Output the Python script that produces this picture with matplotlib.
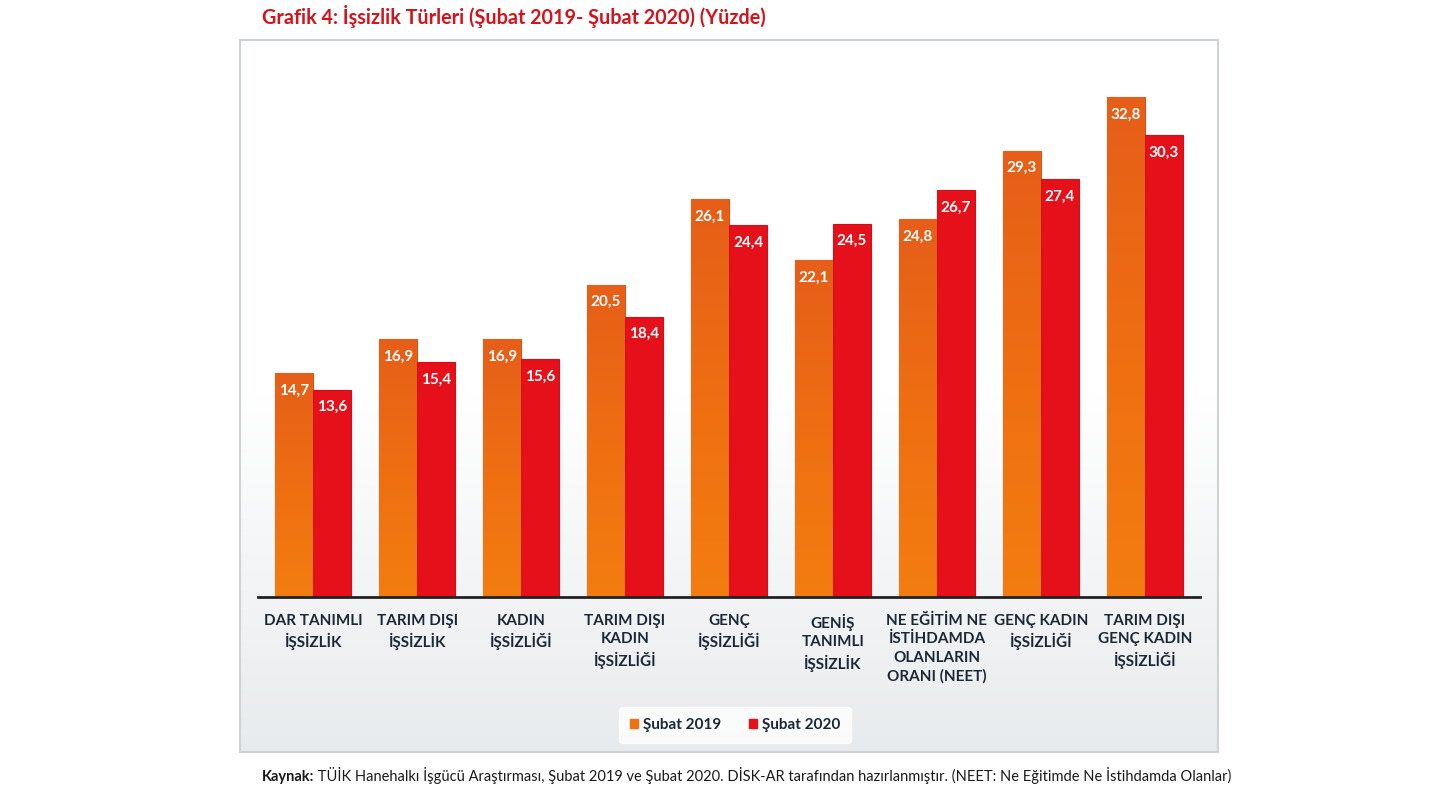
import numpy as np
import matplotlib
matplotlib.use("Agg")
import matplotlib.pyplot as plt
from matplotlib.colors import LinearSegmentedColormap

plt.rcParams['font.family'] = ['Lato', 'DejaVu Sans']

CATEGORIES = [
    "DAR TANIMLI\nİŞSİZLİK",
    "TARIM DIŞI\nİŞSİZLİK",
    "KADIN\nİŞSİZLİĞİ",
    "TARIM DIŞI\nKADIN\nİŞSİZLİĞİ",
    "GENÇ\nİŞSİZLİĞİ",
    "GENİŞ\nTANIMLI\nİŞSİZLİK",
    "NE EĞİTİM NE\nİSTİHDAMDA\nOLANLARIN\nORANI (NEET)",
    "GENÇ KADIN\nİŞSİZLİĞİ",
    "TARIM DIŞI\nGENÇ KADIN\nİŞSİZLİĞİ",
]
SUBAT_2019 = [14.7, 16.9, 16.9, 20.5, 26.1, 22.1, 24.8, 29.3, 32.8]
SUBAT_2020 = [13.6, 15.4, 15.6, 18.4, 24.4, 24.5, 26.7, 27.4, 30.3]
SERIES_NAMES = ["Şubat 2019", "Şubat 2020"]

TITLE = "Grafik 4: İşsizlik Türleri (Şubat 2019- Şubat 2020) (Yüzde)"
SOURCE_BOLD = "Kaynak:"
SOURCE_REST = (" TÜİK Hanehalkı İşgücü Araştırması, Şubat 2019 ve Şubat 2020. "
               "DİSK-AR tarafından hazırlanmıştır. (NEET: Ne Eğitimde Ne İstihdamda Olanlar)")

C_ORANGE = "#ee7212"
C_RED = "#e5101a"
C_TEXT = "#1c2836"
W, H = 1440, 810

fig = plt.figure(figsize=(W / 100, H / 100), dpi=100)
fig.patch.set_facecolor("white")

# ---------------------------------------------------------------------------
# panel background (white -> light grey)
# ---------------------------------------------------------------------------
bg = fig.add_axes([240 / W, (H - 752) / H, 978 / W, 712 / H])
grad = np.linspace(0, 1, 256).reshape(-1, 1)
bg_cmap = LinearSegmentedColormap.from_list("bg", ["#ffffff", "#ffffff", "#e8ebed"])
bg.imshow(grad, aspect="auto", cmap=bg_cmap, extent=[0, 1, 0, 1], origin="upper")
bg.set_xlim(0, 1)
bg.set_ylim(0, 1)
bg.set_xticks([])
bg.set_yticks([])
for sp in bg.spines.values():
    sp.set_edgecolor("#cfd3d6")
    sp.set_linewidth(1.5)
bg.set_zorder(0)

# ---------------------------------------------------------------------------
# bars
# ---------------------------------------------------------------------------
ax = fig.add_axes([258 / W, (H - 597) / H, 942 / W, 510.5 / H])
ax.set_zorder(1)
ax.patch.set_alpha(0)

x = np.arange(len(CATEGORIES))
bw = 0.365
bars19 = ax.bar(x - bw / 2, SUBAT_2019, bw, color=C_ORANGE, edgecolor="#e3501a",
                linewidth=0.8, zorder=2)
bars20 = ax.bar(x + bw / 2, SUBAT_2020, bw, color=C_RED, edgecolor="#d80d16",
                linewidth=0.8, zorder=2)

# gradient fill on the 2019 bars
bar_cmap = LinearSegmentedColormap.from_list("b19", ["#f37d10", "#ef6e12", "#e65e18"])
for b in bars19:
    x0, w = b.get_x(), b.get_width()
    h = b.get_height()
    im = ax.imshow(np.linspace(0, 1, 100).reshape(-1, 1), cmap=bar_cmap, aspect="auto",
                   extent=[x0, x0 + w, 0, h], origin="lower", zorder=2.1)
    im.set_clip_path(b)

ax.set_xlim(-0.53, 8.53)
ax.set_ylim(0, 33.5)

for bars in (bars19, bars20):
    for b in bars:
        ax.text(b.get_x() + b.get_width() / 2, b.get_height() - 1.15,
                f"{b.get_height():.1f}".replace(".", ","),
                ha="center", va="center", color="white", fontsize=11,
                fontweight="bold", zorder=3)

ax.set_yticks([])
ax.set_xticks(x)
ax.set_xticklabels(CATEGORIES, fontsize=11, fontweight="bold", color=C_TEXT,
                   linespacing=1.4, va="top")
ax.tick_params(axis="x", length=0, pad=12)
for name in ("left", "right", "top"):
    ax.spines[name].set_visible(False)
ax.spines["bottom"].set_color("#222222")
ax.spines["bottom"].set_linewidth(2)

# ---------------------------------------------------------------------------
# legend
# ---------------------------------------------------------------------------
handles = [plt.Rectangle((0, 0), 1, 1, color=C_ORANGE),
           plt.Rectangle((0, 0), 1, 1, color=C_RED)]
leg = fig.legend(handles, SERIES_NAMES, loc="center", bbox_to_anchor=(735 / W, (H - 725) / H),
                 ncol=2, frameon=True, fontsize=11, handlelength=0.55, handleheight=0.55,
                 handletextpad=0.3, columnspacing=1.8, borderpad=0.7, fancybox=True)
leg.get_frame().set_facecolor("white")
leg.get_frame().set_edgecolor("white")
for t in leg.get_texts():
    t.set_color(C_TEXT)
    t.set_fontweight("bold")

# ---------------------------------------------------------------------------
# title and source
# ---------------------------------------------------------------------------
fig.text(262 / W, 1 - 16 / H, TITLE, ha="left", va="center", color="#d6121b",
         fontsize=14.2, fontweight="bold")
src = fig.text(262 / W, 1 - 781 / H, SOURCE_BOLD, ha="left", va="baseline",
               color="#1a1a1a", fontsize=10.5, fontweight="bold")
fig.canvas.draw()
bb = src.get_window_extent()
fig.text(bb.x1 / W, 1 - 781 / H, SOURCE_REST, ha="left", va="baseline",
         color="#1a1a1a", fontsize=10.5)

fig.savefig("out.png", dpi=100)
